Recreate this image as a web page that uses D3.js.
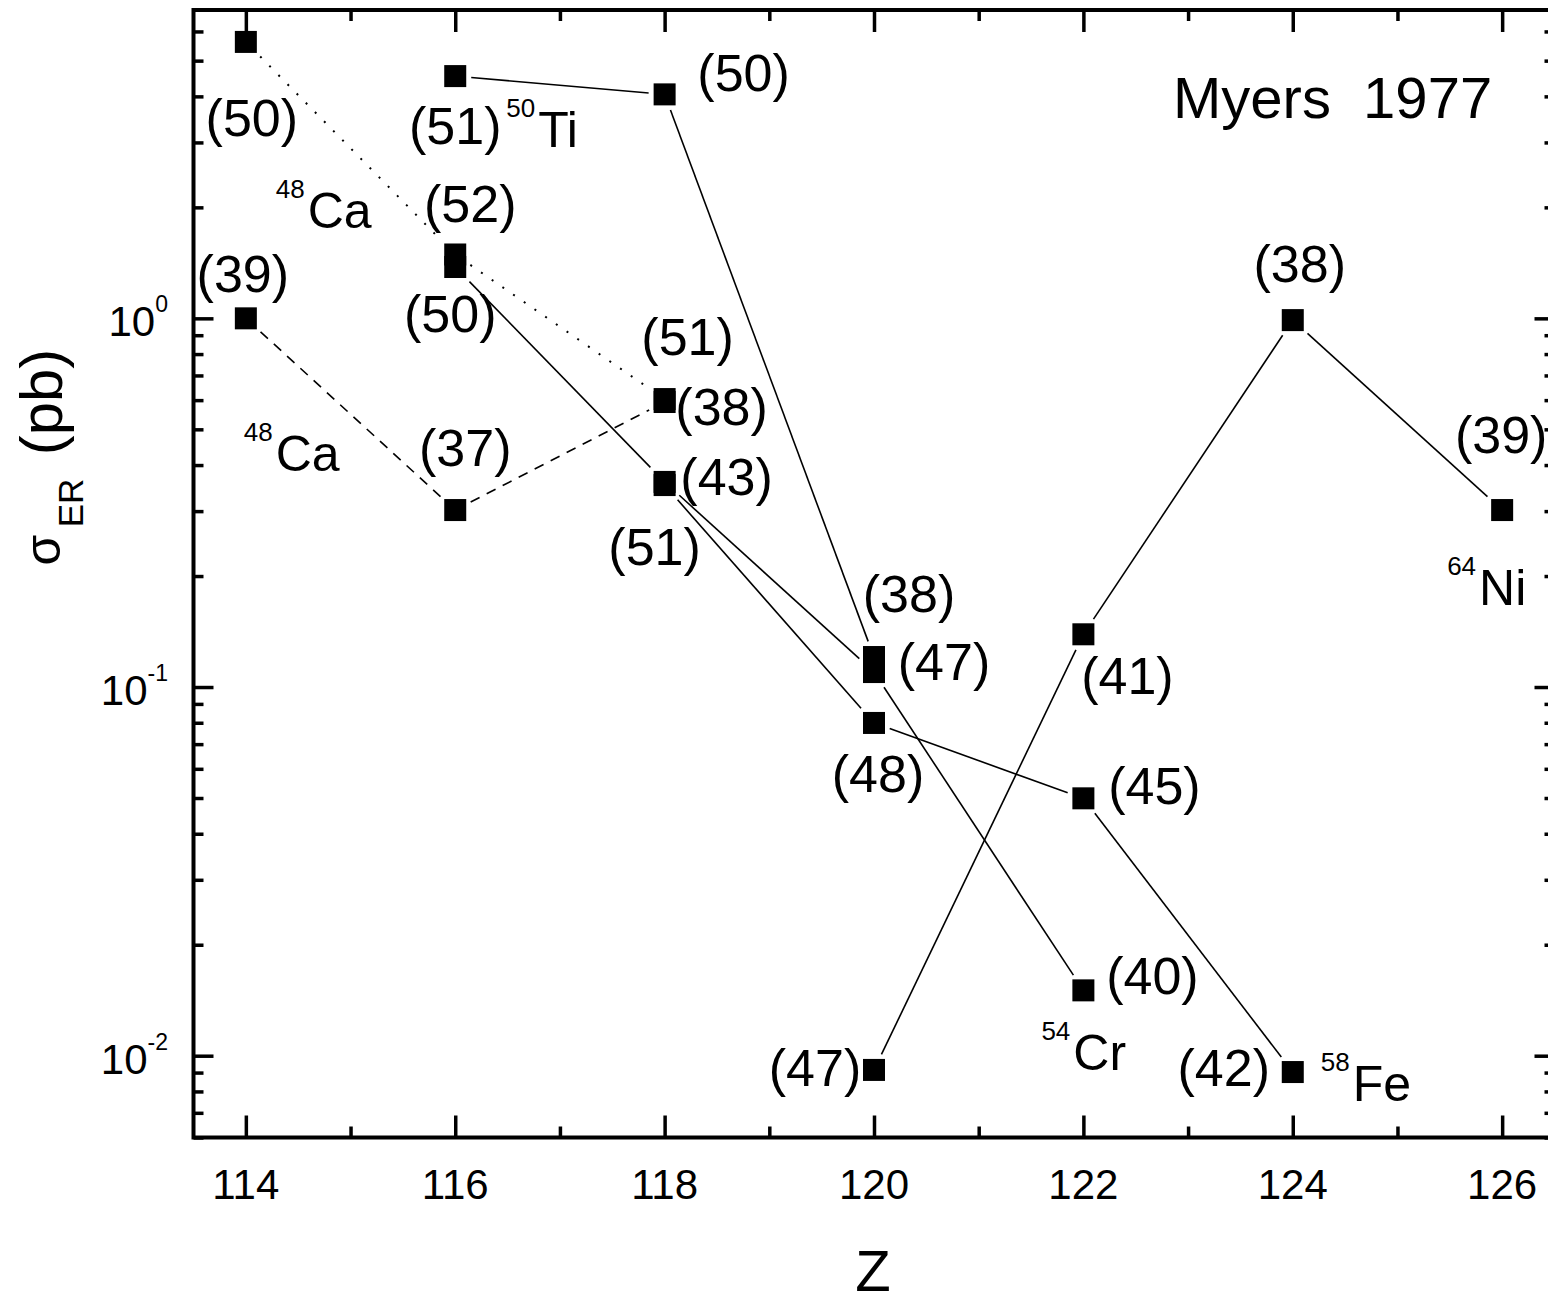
<!DOCTYPE html>
<html>
<head>
<meta charset="utf-8">
<script src="https://cdn.jsdelivr.net/npm/d3@7"></script>
<style>
  html, body { margin: 0; padding: 0; background: #fff; }
  svg { display: block; font-family: "Liberation Sans", Arial, sans-serif; }
</style>
</head>
<body>
<svg id="chart" width="1548" height="1305"></svg>
<script>
// Evaporation-residue cross sections (pb) versus compound-nucleus Z,
// with the excitation energy E* (MeV) written next to each point.
const zCa48a = [114, 116, 118];
const sigmaCa48a = [5.62, 1.49, 0.604];
const estarCa48a = [50, 52, 51];

const zCa48b = [114, 116, 118];
const sigmaCa48b = [1.0, 0.302, 0.593];
const estarCa48b = [39, 37, 38];

const zTi50 = [116, 118, 120];
const sigmaTi50 = [4.54, 4.05, 0.1206];
const estarTi50 = [51, 50, 38];

const zCr54 = [116, 118, 120, 122];
const sigmaCr54 = [1.378, 0.36, 0.1098, 0.01504];
const estarCr54 = [50, 43, 47, 40];

const zFe58 = [118, 120, 122, 124];
const sigmaFe58 = [0.353, 0.0799, 0.0499, 0.00903];
const estarFe58 = [51, 48, 45, 42];

const zNi64 = [120, 122, 124, 126];
const sigmaNi64 = [0.00915, 0.139, 0.989, 0.302];
const estarNi64 = [47, 41, 38, 39];

const xMajorTicks = [114, 116, 118, 120, 122, 124, 126];
const xMinorTicks = [115, 117, 119, 121, 123, 125];
const yDecadeExponents = [0, -1, -2];

const modelNote = "Myers  1977";

// ---- layout -------------------------------------------------------------
const plotLeft = 193.5, plotRight = 1554.5, plotTop = 10, plotBottom = 1137.5;
const x = d3.scaleLinear().domain([113.5, 126.5]).range([plotLeft, plotRight]);
const y = d3.scaleLog().domain([0.006, 6.86]).range([plotBottom, plotTop]);

const svg = d3.select("#chart");

// series: data + drawing style + where each E* label and projectile name sits
const series = [
  { z: zCa48a, s: sigmaCa48a, e: estarCa48a, dash: "2,11", width: 2,
    proj: ["48", "Ca"], projAt: 0, projOff: [30, 186],
    lab: [[6, 94], [15, -32], [23, -44]] },
  { z: zCa48b, s: sigmaCa48b, e: estarCa48b, dash: "10,8", width: 1.6,
    proj: ["48", "Ca"], projAt: 0, projOff: [-2, 153],
    lab: [[-3, -26], [10, -44], [57, 23]] },
  { z: zTi50, s: sigmaTi50, e: estarTi50, dash: null, width: 1.6,
    proj: ["50", "Ti"], projAt: 0, projOff: [51, 71],
    lab: [[0, 68], [79, -3], [35, -45]] },
  { z: zCr54, s: sigmaCr54, e: estarCr54, dash: null, width: 1.6,
    proj: ["54", "Cr"], projAt: 3, projOff: [-42, 80],
    lab: [[-5, 65], [62, 13], [70, 8], [69, 4]] },
  { z: zFe58, s: sigmaFe58, e: estarFe58, dash: null, width: 1.6,
    proj: ["58", "Fe"], projAt: 3, projOff: [28, 29],
    lab: [[-10, 80], [4, 69], [71, 6], [-69, 14]] },
  { z: zNi64, s: sigmaNi64, e: estarNi64, dash: null, width: 1.6,
    proj: ["64", "Ni"], projAt: 3, projOff: [-55, 95],
    lab: [[-59, 16], [44, 60], [7, -38], [-1, -57]] }
];

// ---- axes (ticks pointing inward on all four sides) ---------------------
const yMinor = [];
for (let k = -3; k <= 0; k++) {
  for (let m = 2; m <= 9; m++) {
    const v = m * Math.pow(10, k);
    if (v >= 0.006 && v <= 6.86) yMinor.push(v);
  }
}
const yMajor = yDecadeExponents.map(p => Math.pow(10, p));

function styleAxis(g, w) {
  g.select(".domain").remove();
  g.selectAll(".tick line").attr("stroke", "#000").attr("stroke-width", w);
  g.selectAll(".tick text").remove();
}

const axes = svg.append("g");
[[d3.axisBottom, plotBottom], [d3.axisTop, plotTop]].forEach(([fn, pos]) => {
  axes.append("g").attr("transform", `translate(0,${pos})`)
    .call(fn(x).tickValues(xMajorTicks).tickSizeInner(-22).tickSizeOuter(0).tickFormat(""))
    .call(g => styleAxis(g, 3.5));
  axes.append("g").attr("transform", `translate(0,${pos})`)
    .call(fn(x).tickValues(xMinorTicks).tickSizeInner(-11).tickSizeOuter(0).tickFormat(""))
    .call(g => styleAxis(g, 3.5));
});
[[d3.axisLeft, plotLeft], [d3.axisRight, plotRight]].forEach(([fn, pos]) => {
  axes.append("g").attr("transform", `translate(${pos},0)`)
    .call(fn(y).tickValues(yMajor).tickSizeInner(-20).tickSizeOuter(0).tickFormat(""))
    .call(g => styleAxis(g, 3.5));
  axes.append("g").attr("transform", `translate(${pos},0)`)
    .call(fn(y).tickValues(yMinor).tickSizeInner(-10).tickSizeOuter(0).tickFormat(""))
    .call(g => styleAxis(g, 3.5));
});

// frame
svg.append("rect")
  .attr("x", plotLeft).attr("y", plotTop)
  .attr("width", plotRight - plotLeft).attr("height", plotBottom - plotTop)
  .attr("fill", "none").attr("stroke", "#000").attr("stroke-width", 4);

// x tick labels
svg.append("g").selectAll("text").data(xMajorTicks).join("text")
  .attr("x", d => x(d)).attr("y", plotBottom + 61)
  .attr("text-anchor", "middle").attr("font-size", 42)
  .text(d => d);

// y tick labels: 10 with superscript exponent
const yl = svg.append("g").selectAll("text").data(yDecadeExponents).join("text")
  .attr("x", 168).attr("y", d => y(Math.pow(10, d)) + 18)
  .attr("text-anchor", "end").attr("font-size", 42);
yl.append("tspan").text("10");
yl.append("tspan").attr("dy", -24).attr("font-size", 23).text(d => d);

// axis titles
svg.append("text").attr("x", 873).attr("y", 1291)
  .attr("text-anchor", "middle").attr("font-size", 58).text("Z");

const yTitle = [
  { t: "\u03C3", fs: 50, base: 60, cy: 550 },
  { t: "ER", fs: 35, base: 83, cy: 503 },
  { t: "(pb)", fs: 60, base: 62, cy: 402 }
];
svg.append("g").selectAll("text").data(yTitle).join("text")
  .attr("transform", d => `translate(${d.base},${d.cy}) rotate(-90)`)
  .attr("text-anchor", "middle").attr("font-size", d => d.fs)
  .text(d => d.t);

// ---- data ---------------------------------------------------------------
const half = 11, gap = 5;
function clipSeg(p, q) {
  const dx = q[0] - p[0], dy = q[1] - p[1];
  const len = Math.hypot(dx, dy);
  const ux = dx / len, uy = dy / len;
  const t = half / Math.max(Math.abs(ux), Math.abs(uy)) + gap;
  return [[p[0] + ux * t, p[1] + uy * t], [q[0] - ux * t, q[1] - uy * t]];
}
const line = d3.line();

const plot = svg.append("g");
series.forEach(sr => {
  const pts = sr.z.map((z, i) => [x(z), y(sr.s[i])]);
  for (let i = 0; i < pts.length - 1; i++) {
    plot.append("path")
      .attr("d", line(clipSeg(pts[i], pts[i + 1])))
      .attr("fill", "none").attr("stroke", "#000")
      .attr("stroke-width", sr.width)
      .attr("stroke-dasharray", sr.dash);
  }
});

series.forEach(sr => {
  const pts = sr.z.map((z, i) => [x(z), y(sr.s[i])]);
  plot.append("g").selectAll("rect").data(pts).join("rect")
    .attr("x", d => d[0] - half).attr("y", d => d[1] - half)
    .attr("width", 2 * half).attr("height", 2 * half)
    .attr("fill", "#000");

  // E* labels
  plot.append("g").selectAll("text").data(sr.e).join("text")
    .attr("x", (d, i) => pts[i][0] + sr.lab[i][0])
    .attr("y", (d, i) => pts[i][1] + sr.lab[i][1])
    .attr("text-anchor", "middle").attr("font-size", 52)
    .text(d => `(${d})`);

  // projectile name with mass-number superscript
  const a = pts[sr.projAt];
  const t = plot.append("text")
    .attr("x", a[0] + sr.projOff[0]).attr("y", a[1] + sr.projOff[1])
    .attr("font-size", 50);
  t.append("tspan").attr("font-size", 26).attr("dy", -30).text(sr.proj[0]);
  t.append("tspan").attr("dy", 30).attr("dx", 3).text(sr.proj[1]);
});

// model annotation
svg.append("text").attr("x", 1173).attr("y", 118)
  .attr("font-size", 58)
  .style("white-space", "pre")
  .text(modelNote);
</script>
</body>
</html>
